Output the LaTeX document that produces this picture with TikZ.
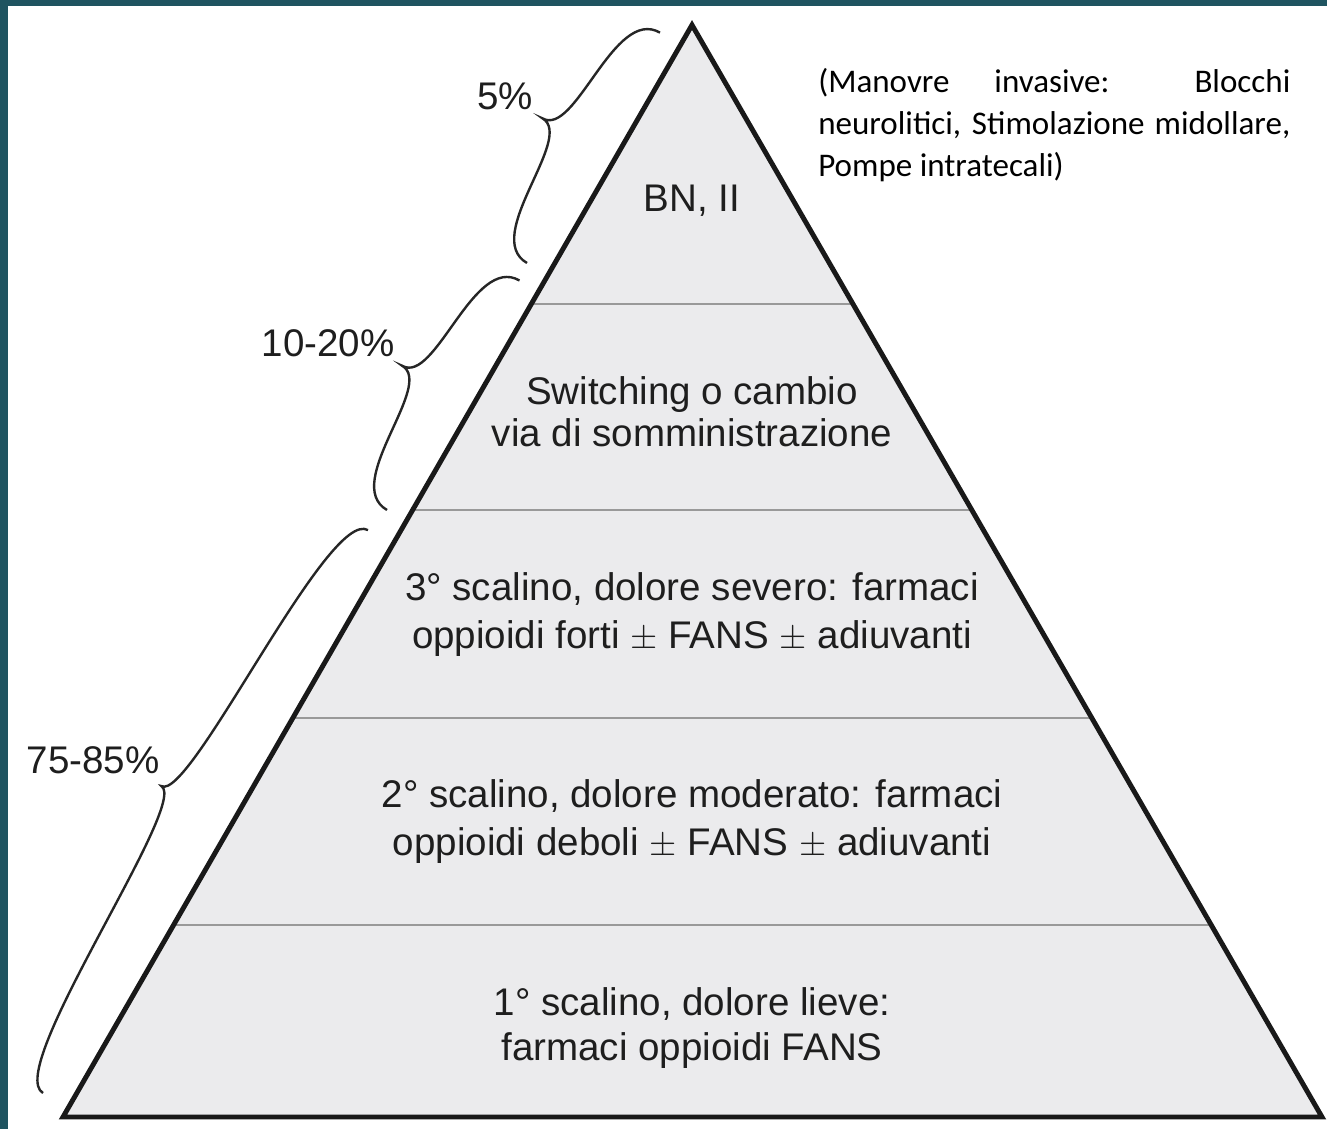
\documentclass[tikz,border=0pt]{standalone}
\usepackage{fontspec}
\setmainfont{Liberation Sans}
\newfontfamily\notefont{Carlito}
\usepackage{tikz}
\usetikzlibrary{calc}
\definecolor{slideteal}{RGB}{31, 84, 96}
\definecolor{stepgray}{RGB}{235, 235, 237}
\definecolor{stepink}{RGB}{30, 30, 30}

\begin{document}
\begin{tikzpicture}[
    x=0.025cm, y=-0.025cm,
    steptext/.style={
      inner sep=0pt,
      anchor=base,
      align=center,
      text=stepink,
      font=\fontsize{27.4pt}{34.1pt}\selectfont
    },
    pctlabel/.style={
      inner sep=0pt,
      anchor=base,
      text=stepink,
      font=\fontsize{27.4pt}{34.1pt}\selectfont
    },
    divider/.style={
      draw=black!40,
      line width=2pt
    },
    pics/curly/.style 2 args={
      code={
        \draw[line width=1.7pt, black!85]
          (0,0) .. controls (0,-0.9*#2) and (#1/2,-0.35*#2) .. (#1/2,-#2)
                .. controls (#1/2,-0.35*#2) and (#1,-0.9*#2) .. (#1,0);
      }
    }
  ]

    % Frame
    \useasboundingbox (0,0) rectangle (1327,1129);
    \fill[slideteal] (0,0) rectangle (1327,1129);
    \fill[white] (8,6) rectangle (1327,1129);

    % Pyramid
    \coordinate (apex) at (692,25);
    \coordinate (baseL) at (63,1117);
    \coordinate (baseR) at (1322,1117);
    \fill[stepgray] (apex) -- (baseL) -- (baseR) -- cycle;
    \foreach \t [count=\i] in {0.2555, 0.4441, 0.6346, 0.8242} {
      \coordinate (l\i) at ($(apex)!\t!(baseL)$);
      \coordinate (r\i) at ($(apex)!\t!(baseR)$);
      \draw[divider] (l\i) -- (r\i);
    }
    \draw[line width=3.5pt, black!90] (apex) -- (baseL) -- (baseR) -- cycle;

    % Steps (base = last line)
    \node[steptext] (bn) at (692,212) {BN, II};
    \node[steptext, font=\fontsize{27.4pt}{29.2pt}\selectfont] (switch) at (692,446)
      {Switching o cambio\\via di somministrazione};
    \node[steptext] (severe) at (692,648)
      {3° scalino, dolore severo: farmaci\\oppioidi forti $\pm$ FANS $\pm$ adiuvanti};
    \node[steptext] (moderate) at (692,855)
      {2° scalino, dolore moderato: farmaci\\oppioidi deboli $\pm$ FANS $\pm$ adiuvanti};
    \node[steptext, font=\fontsize{27.4pt}{32pt}\selectfont] (mild) at (692,1060)
      {1° scalino, dolore lieve:\\farmaci oppioidi FANS};

    % Note
    \node[anchor=base west, inner sep=0pt, align=left,
      font=\notefont\fontsize{23.5pt}{29.9pt}\selectfont] (invasive) at (818,177)
      {\makebox[11.8cm][s]{(Manovre invasive: Blocchi}\\
       \makebox[11.8cm][s]{neurolitici, Stimolazione midollare,}\\
       Pompe intratecali)};

    % Braces
    \coordinate (b1s) at (527,263);
    \coordinate (b2s) at (387,510);
    \coordinate (b3s) at (43,1093);
    \pic[rotate=60] at (b1s) {curly={266}{59}};
    \pic[rotate=60] at (b2s) {curly={265}{59}};
    \pic[rotate=60] at (b3s) {curly={650}{51}};

    \node[pctlabel] (p5) at (505,110) {5\%};
    \node[pctlabel] (p10) at (328,356) {10-20\%};
    \node[pctlabel] (p75) at (93,773) {75-85\%};

  \end{tikzpicture}
\end{document}
